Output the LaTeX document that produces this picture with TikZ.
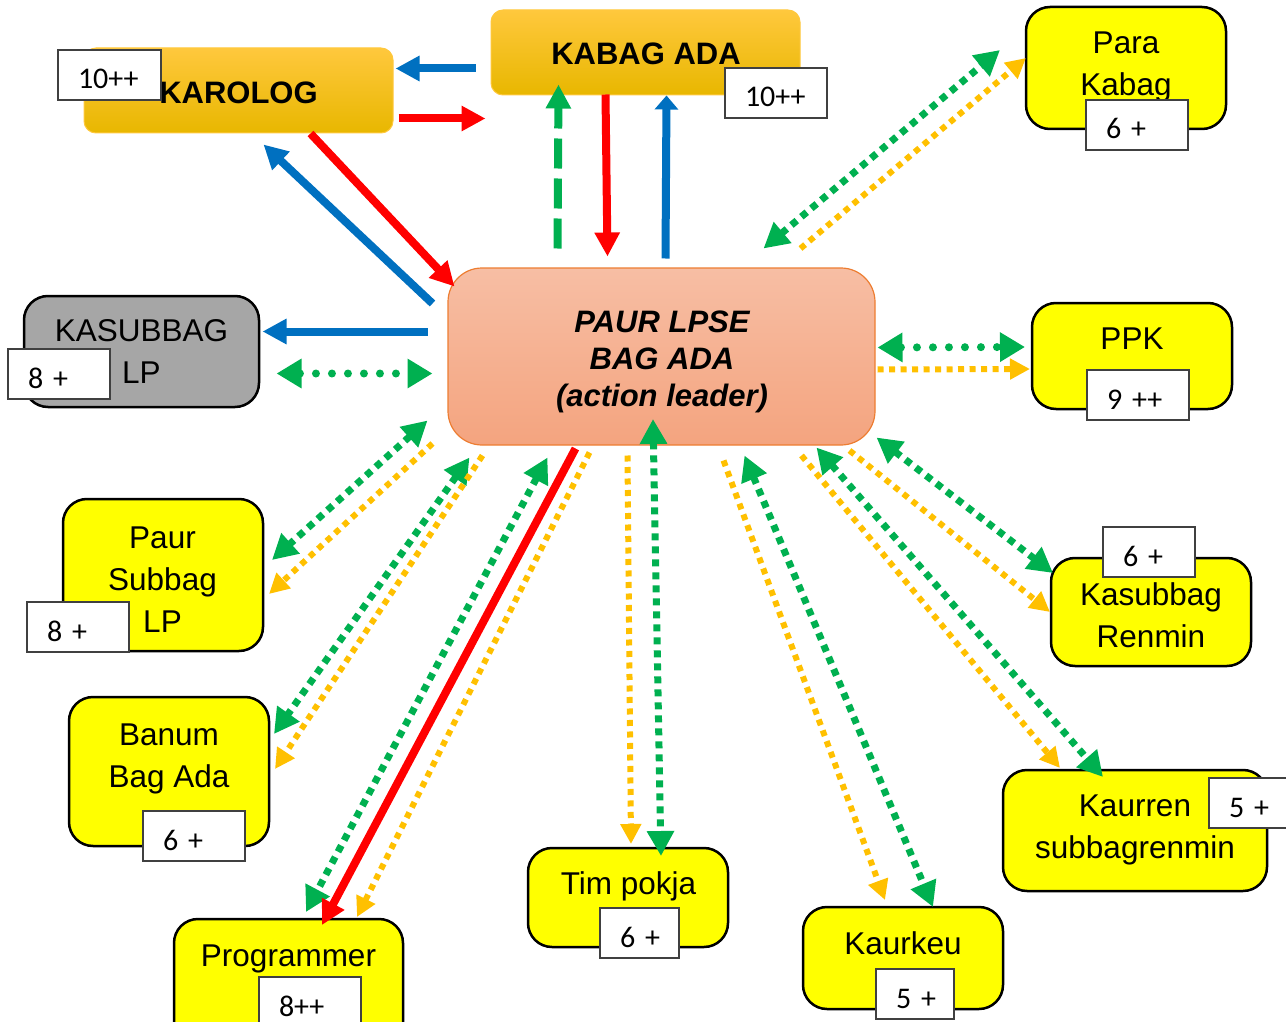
\documentclass[tikz,border=0pt]{standalone}
\usepackage{fontspec}
\setmainfont{Liberation Sans}
\newfontfamily\numfont{Carlito}
\usetikzlibrary{arrows.meta}

\definecolor{cgreen}{HTML}{00B050}
\definecolor{corange}{HTML}{FFC000}
\definecolor{cblue}{HTML}{0070C0}
\definecolor{cred}{HTML}{FF0000}
\definecolor{cyellow}{HTML}{FFFF00}
\definecolor{cgray}{HTML}{A6A6A6}
\definecolor{gtop}{HTML}{FFC83D}
\definecolor{gbot}{HTML}{E8B700}
\definecolor{ptop}{HTML}{F7BEA4}
\definecolor{pbot}{HTML}{F4A47F}
\definecolor{pline}{HTML}{ED7D31}

\begin{document}
\begin{tikzpicture}[x=1pt,y=-1pt,
  ybox/.style={draw=black, line width=2.5pt, fill=cyellow, rounded corners=24pt, inner sep=0pt},
  graybox/.style={ybox, fill=cgray},
  obox/.style={draw=gtop, line width=1pt, top color=gtop, middle color=corange, bottom color=gbot,
    rounded corners=12pt, minimum width=309pt, minimum height=85pt, inner sep=0pt},
  pbox/.style={draw=pline, line width=1.2pt, top color=ptop, bottom color=pbot,
    rounded corners=34pt, minimum width=427pt, minimum height=177pt, inner sep=0pt},
  numbox/.style={draw=black!75, line width=1.5pt, fill=white, minimum height=50pt,
    inner xsep=20pt, inner ysep=0pt, align=left, text width=#1, text height=28pt, text depth=0pt,
    font=\numfont\fontsize{30}{30}\selectfont},
  btext/.style={font=\fontsize{31.5}{42}\selectfont, align=center, inner sep=0pt, text depth=0pt},
  ttext/.style={font=\bfseries\fontsize{31}{36}\selectfont, inner sep=0pt, text depth=0pt},
  ctext/.style={font=\bfseries\itshape\fontsize{31}{37}\selectfont, align=center, inner sep=0pt, text depth=0pt},
  solidarr/.style={line width=8pt, -{Triangle[length=24pt,width=24pt]}},
  gsq/.style={cgreen, line width=7pt, dash pattern=on 7pt off 6pt,
    {Triangle[length=25pt,width=26pt]}-{Triangle[length=25pt,width=26pt]}},
  osq/.style={corange, line width=6pt, dash pattern=on 6pt off 5.5pt, -{Triangle[length=20pt,width=20pt]}},
  gdot/.style={cgreen, line width=8pt, line cap=round, dash pattern=on 0pt off 16pt,
    {Triangle[length=25pt,width=28pt]}-{Triangle[length=25pt,width=28pt]}},
  gdash/.style={cgreen, line width=8pt, dash pattern=on 30pt off 10pt, -{Triangle[length=24pt,width=24pt]}},
]
\useasboundingbox (0,0) rectangle (1286,1022);
\clip (0,0) rectangle (1286,1022);

% ---- boxes ----
\node[obox] (karolog) at (238.5,90.5) {};
\node[obox] (kabag) at (645.5,52.5) {};
\node[pbox] (paur) at (661.5,356.5) {};
\node[ybox, minimum width=200pt, minimum height=122pt] (para) at (1126,68) {};
\node[graybox, minimum width=235pt, minimum height=111pt] (kasub) at (141.5,351.5) {};
\node[ybox, minimum width=200pt, minimum height=106pt] (ppk) at (1132,356) {};
\node[ybox, minimum width=200pt, minimum height=152pt] (paursub) at (163,575) {};
\node[ybox, minimum width=200pt, minimum height=149pt] (banum) at (169,771.5) {};
\node[ybox, minimum width=229pt, minimum height=142pt] (prog) at (288.5,990) {};
\node[ybox, minimum width=200pt, minimum height=99pt] (tim) at (628,897.5) {};
\node[ybox, minimum width=200pt, minimum height=102pt] (kaurkeu) at (903,958) {};
\node[ybox, minimum width=200pt, minimum height=108pt] (renmin) at (1151,612) {};
\node[ybox, minimum width=264pt, minimum height=121pt] (kaurren) at (1135,830.5) {};

% ---- box texts ----
\node[ttext] (karolog-t) at (238.5,93) {KAROLOG};
\node[ttext] (kabag-t) at (646,54) {KABAG ADA};
\node[ctext] (paur-t) at (662,359) {PAUR LPSE\\BAG ADA\\(action leader)};
\node[btext] (para-t) at (1126,64) {Para\\Kabag};
\node[btext] (kasub-t) at (141.5,352) {KASUBBAG\\LP};
\node[btext] (ppk-t) at (1132,338.5) {PPK};
\node[btext] (paursub-t) at (162.5,579.5) {Paur\\Subbag\\LP};
\node[btext] (banum-t) at (169,756) {Banum\\Bag Ada};
\node[btext] (prog-t) at (288.5,956) {Programmer};
\node[btext] (tim-t) at (628.5,883) {Tim pokja};
\node[btext] (kaurkeu-t) at (903,943) {Kaurkeu};
\node[btext] (renmin-t) at (1151,615) {Kasubbag\\Renmin};
\node[btext] (kaurren-t) at (1135,827) {Kaurren\\subbagrenmin};

% ---- score labels ----
\node[numbox=63pt] (karolog-n) at (109.5,75) {\mbox{10++}};
\node[numbox=62pt] (kabag-n) at (776,93) {\mbox{10++}};
\node[numbox=62pt] (para-n) at (1137,125) {\mbox{6 +}};
\node[numbox=62pt] (kasub-n) at (59,374) {\mbox{8 +}};
\node[numbox=62pt] (ppk-n) at (1138,395) {\mbox{9 ++}};
\node[numbox=62pt] (paursub-n) at (78,627) {\mbox{8 +}};
\node[numbox=62pt] (banum-n) at (194,836) {\mbox{6 +}};
\node[numbox=62pt] (prog-n) at (310,1002) {\mbox{8++}};
\node[numbox=39pt] (tim-n) at (639.5,933) {\mbox{6 +}};
\node[numbox=38pt] (kaurkeu-n) at (915,994) {\mbox{5 +}};
\node[numbox=52pt] (renmin-n) at (1149,552) {\mbox{6 +}};
\node[numbox=41pt] (kaurren-n) at (1249.5,803) {\mbox{5 +}};

% ---- links between KAROLOG, KABAG ADA and PAUR LPSE ----
\draw[solidarr, cblue] ([shift={(-170,16)}]kabag.center) -- ([shift={(157,-22)}]karolog.center);
\draw[solidarr, cred] ([shift={(160,28)}]karolog.center) -- ([shift={(-160,66)}]kabag.center);
\draw[solidarr, cred] ([shift={(72,43)}]karolog.center) -- ([shift={(-207,-70)}]paur.center);
\draw[solidarr, cblue] ([shift={(-229,-53)}]paur.center) -- ([shift={(25,54)}]karolog.center);
\draw[gdash] ([shift={(-104,-108)}]paur.center) -- ([shift={(-87,32)}]kabag.center);
\draw[solidarr, cred] ([shift={(-40,42)}]kabag.center) -- ([shift={(-54,-100)}]paur.center);
\draw[cblue, line width=8pt, -{Triangle[length=14pt,width=23pt]}]
  ([shift={(4,-98)}]paur.center) -- ([shift={(21,43)}]kabag.center);

% ---- Para Kabag ----
\draw[gsq] ([shift={(102,-108)}]paur.center) -- ([shift={(-126,-18)}]para.center);
\draw[osq] ([shift={(139,-108)}]paur.center) -- ([shift={(-100,-10)}]para.center);

% ---- KASUBBAG LP ----
\draw[solidarr, cblue] ([shift={(-234,-25)}]paur.center) -- ([shift={(121,-20)}]kasub.center);
\draw[gdot] ([shift={(135,22)}]kasub.center) -- ([shift={(-229,17)}]paur.center);

% ---- PPK ----
\draw[gdot] ([shift={(216,-9)}]paur.center) -- ([shift={(-107,-9)}]ppk.center);
\draw[osq] ([shift={(216,13)}]paur.center) -- ([shift={(-102,13)}]ppk.center);

% ---- Paur Subbag LP ----
\draw[gsq] ([shift={(-234,64)}]paur.center) -- ([shift={(109,-15)}]paursub.center);
\draw[osq] ([shift={(-229,87)}]paur.center) -- ([shift={(106,19)}]paursub.center);

% ---- Banum Bag Ada ----
\draw[gsq] ([shift={(-192,101)}]paur.center) -- ([shift={(105,-37.5)}]banum.center);
\draw[osq] ([shift={(-179,99)}]paur.center) -- ([shift={(106,-2.5)}]banum.center);

% ---- Programmer ----
\draw[gsq] ([shift={(-114,101)}]paur.center) -- ([shift={(17.5,-78)}]prog.center);
\draw[solidarr, cred] ([shift={(-86,92)}]paur.center) -- ([shift={(33.5,-65)}]prog.center);
\draw[osq] ([shift={(-72,96)}]paur.center) -- ([shift={(68.5,-73)}]prog.center);

% ---- Tim pokja ----
\draw[osq] ([shift={(-34,99)}]paur.center) -- ([shift={(3,-53.5)}]tim.center);
\draw[gsq] ([shift={(-8.5,62.5)}]paur.center) -- ([shift={(33,-41.5)}]tim.center);

% ---- Kaurkeu ----
\draw[osq] ([shift={(62,104)}]paur.center) -- ([shift={(-18,-58)}]kaurkeu.center);
\draw[gsq] ([shift={(83,99)}]paur.center) -- ([shift={(30,-51)}]kaurkeu.center);

% ---- Kaurren subbagrenmin ----
\draw[osq] ([shift={(140,99)}]paur.center) -- ([shift={(-75,-62.5)}]kaurren.center);
\draw[gsq] ([shift={(155,91)}]paur.center) -- ([shift={(-32,-53.5)}]kaurren.center);

% ---- Kasubbag Renmin ----
\draw[gsq] ([shift={(215,81)}]paur.center) -- ([shift={(-98,-39)}]renmin.center);
\draw[osq] ([shift={(188,94)}]paur.center) -- ([shift={(-101,0)}]renmin.center);
\end{tikzpicture}
\end{document}
